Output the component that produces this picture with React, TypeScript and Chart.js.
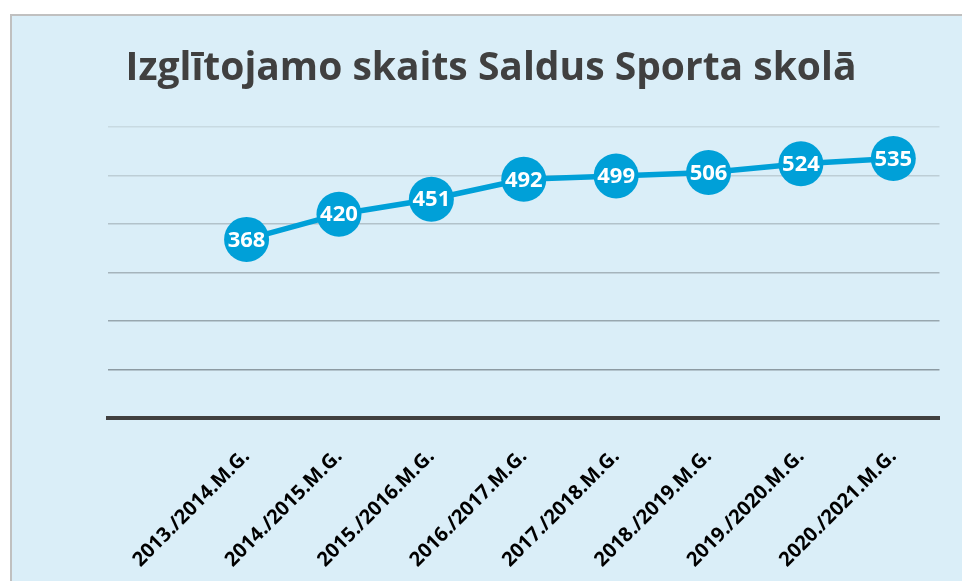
import React, { useEffect, useRef } from "react";
import { Chart, registerables } from "chart.js";

Chart.register(...registerables);

const TITLE = "Izglītojamo skaits Saldus Sporta skolā";
const CATEGORIES = [
  "",
  "2013./2014.M.G.",
  "2014./2015.M.G.",
  "2015./2016.M.G.",
  "2016./2017.M.G.",
  "2017./2018.M.G.",
  "2018./2019.M.G.",
  "2019./2020.M.G.",
  "2020./2021.M.G.",
];
const STUDENTS = [null, 368, 420, 451, 492, 499, 506, 524, 535];
const Y_MIN = 0;
const Y_MAX = 600;
const Y_STEP = 100;

const BLUE = "#00A0D8";
const GRID_COLORS: Record<number, string> = {
  0: "#404040",
  100: "#8C9AA2",
  200: "#98A7AF",
  300: "#A5B4BC",
  400: "#B2C2CA",
  500: "#BDCED6",
  600: "#C8DAE2",
};

const valueLabels = {
  id: "valueLabels",
  afterDatasetsDraw(chart: any) {
    const ctx = chart.ctx;
    const meta = chart.getDatasetMeta(0);
    const data = chart.data.datasets[0].data;
    ctx.save();
    ctx.fillStyle = "#FFFFFF";
    ctx.font = "bold 22px 'Open Sans'";
    ctx.textAlign = "center";
    ctx.textBaseline = "middle";
    meta.data.forEach((el: any, i: number) => {
      const v = data[i];
      if (v === null || v === undefined) return;
      ctx.fillText(String(v), el.x, el.y + 1);
    });
    ctx.restore();
  },
};

const titleText = {
  id: "titleText",
  afterDraw(chart: any) {
    const ctx = chart.ctx;
    ctx.save();
    ctx.fillStyle = "#404040";
    ctx.font = "bold 39px 'Open Sans'";
    ctx.textAlign = "center";
    ctx.textBaseline = "alphabetic";
    ctx.fillText(TITLE, 479, 64);
    ctx.restore();
  },
};

export default function App() {
  const ref = useRef<HTMLCanvasElement | null>(null);
  useEffect(() => {
    if (!ref.current) return;
    const chart = new Chart(ref.current, {
      type: "line",
      data: {
        labels: CATEGORIES,
        datasets: [
          {
            data: STUDENTS,
            borderColor: BLUE,
            backgroundColor: BLUE,
            borderWidth: 5.5,
            pointRadius: 22.5,
            pointHoverRadius: 22.5,
            pointBorderWidth: 0,
            pointBackgroundColor: BLUE,
            tension: 0,
            spanGaps: false,
          },
        ],
      },
      plugins: [valueLabels, titleText],
      options: {
        animation: false,
        responsive: false,
        events: [],
        layout: { padding: { left: 0, right: 20, top: 111, bottom: 0 } },
        plugins: {
          legend: { display: false },
          tooltip: { enabled: false },
          title: { display: false },
        },
        scales: {
          x: {
            offset: true,
            grid: { display: false, drawTicks: false },
            border: { display: true, color: "#404040", width: 4 },
            ticks: {
              autoSkip: false,
              minRotation: 45,
              maxRotation: 45,
              color: "#000000",
              padding: 27,
              font: { family: "'Open Sans'", size: 20, weight: "bold" },
            },
            afterFit: (scale: any) => {
              scale.height = 163.3;
            },
          },
          y: {
            min: Y_MIN,
            max: Y_MAX,
            ticks: { stepSize: Y_STEP, display: false },
            grid: {
              drawTicks: false,
              lineWidth: 1.5,
              color: (c: any) => GRID_COLORS[c.tick?.value] || "#B0C0C8",
            },
            border: { display: false },
            afterFit: (scale: any) => {
              scale.width = 96;
            },
          },
        },
      },
    });
    return () => chart.destroy();
  }, []);

  return (
    <div
      style={{
        position: "absolute",
        left: 0,
        top: 0,
        width: 962,
        height: 581,
        overflow: "hidden",
        background: "#FFFFFF",
      }}
    >
      <div
        style={{
          position: "absolute",
          left: 10,
          top: 14,
          width: 960,
          height: 575,
          borderLeft: "2px solid #C0C0C0",
          borderTop: "2px solid #C0C0C0",
          background: "#DAEEF8",
        }}
      >
        <canvas ref={ref} width={950} height={565} style={{ display: "block" }} />
      </div>
    </div>
  );
}
